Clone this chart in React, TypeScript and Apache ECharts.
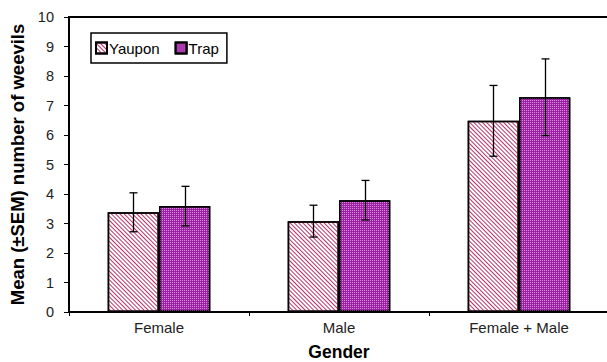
import React, { useEffect, useRef } from "react";
import * as echarts from "echarts";

const categories = ["Female", "Male", "Female + Male"];
const yaupon = [3.38, 3.08, 6.48];
const yauponSem = [0.66, 0.54, 1.2];
const trap = [3.59, 3.79, 7.28];
const trapSem = [0.67, 0.67, 1.3];
const seriesNames = ["Yaupon", "Trap"];

const FONT = "'Liberation Sans', Arial, sans-serif";
const GAP = 0.43;

function errSeries(values: number[], sems: number[], sign: number) {
  return {
    type: "custom",
    silent: true,
    z: 10,
    data: values.map((v, i) => [i, v, sems[i]]),
    renderItem: (params: any, api: any) => {
      const band = api.size([1, 0])[0];
      const bw = (band * (1 - GAP)) / 2;
      const c = api.value(0);
      const v = api.value(1);
      const s = api.value(2);
      const top = api.coord([c, v + s]);
      const bot = api.coord([c, v - s]);
      const x = Math.round(top[0] + (sign * bw) / 2) + 0.5;
      const hw = 4;
      const style = { stroke: "#000", lineWidth: 1.3 };
      return {
        type: "group",
        children: [
          { type: "line", shape: { x1: x, y1: top[1], x2: x, y2: bot[1] }, style },
          { type: "line", shape: { x1: x - hw, y1: top[1], x2: x + hw, y2: top[1] }, style },
          { type: "line", shape: { x1: x - hw, y1: bot[1], x2: x + hw, y2: bot[1] }, style },
        ],
      };
    },
  };
}

export default function App() {
  const ref = useRef<HTMLDivElement>(null);
  useEffect(() => {
    const chart = echarts.init(ref.current!, null, { renderer: "svg" });
    chart.setOption({
      animation: false,
      textStyle: { fontFamily: FONT },
      legend: {
        data: seriesNames,
        left: 91,
        top: 33,
        orient: "horizontal",
        icon: "rect",
        itemWidth: 11,
        itemHeight: 11,
        itemGap: 15,
        padding: [6, 8, 6, 4],
        borderColor: "#000",
        borderWidth: 1.5,
        textStyle: {
          fontFamily: FONT,
          fontSize: 15,
          lineHeight: 18,
          color: "#000",
          padding: [0, 0, 0, -3],
        },
      },
      grid: { left: 69, top: 17, width: 540, height: 295, outerBoundsMode: "none", containLabel: false },
      xAxis: [
        {
          type: "category",
          data: categories,
          name: "Gender",
          nameLocation: "middle",
          nameGap: 31,
          nameTextStyle: { fontFamily: FONT, fontSize: 17.5, fontWeight: "bold", color: "#000" },
          axisLine: { lineStyle: { color: "#000", width: 2 } },
          axisTick: { show: true, length: 4, lineStyle: { color: "#000", width: 1 } },
          axisLabel: { fontFamily: FONT, fontSize: 15, color: "#222", margin: 8 },
        },
        {
          type: "category",
          data: categories,
          position: "top",
          axisLine: { lineStyle: { color: "#000", width: 2 } },
          axisTick: { show: false },
          axisLabel: { show: false },
        },
      ],
      yAxis: {
        type: "value",
        min: 0,
        max: 10,
        interval: 1,
        name: "Mean (\u00b1SEM) number of weevils",
        nameLocation: "middle",
        nameGap: 42,
        nameTextStyle: { fontFamily: FONT, fontSize: 18.5, fontWeight: "bold", color: "#000" },
        axisLine: { show: true, lineStyle: { color: "#000", width: 2 } },
        axisTick: { show: true, length: 5, lineStyle: { color: "#000", width: 1 } },
        axisLabel: { fontFamily: FONT, fontSize: 14.5, color: "#222", margin: 15 },
        splitLine: { show: false },
      },
      series: [
        {
          name: "Yaupon",
          type: "bar",
          data: yaupon,
          barGap: "0%",
          barCategoryGap: "43%",
          itemStyle: {
            color: "#ffffff",
            borderColor: "#000",
            borderWidth: 1.5,
            decal: {
              symbol: "rect",
              color: "#b8336a",
              dashArrayX: [1, 0],
              dashArrayY: [1, 2],
              rotation: Math.PI / 4,
            },
          },
        },
        {
          name: "Trap",
          type: "bar",
          data: trap,
          barGap: "0%",
          barCategoryGap: "43%",
          itemStyle: {
            color: "#9c22a4",
            borderColor: "#000",
            borderWidth: 1.5,
            decal: {
              symbol: "rect",
              color: "#d68ad8",
              symbolSize: 1,
              dashArrayX: [1, 1],
              dashArrayY: [1, 1],
              rotation: 0,
            },
          },
        },
        errSeries(yaupon, yauponSem, -1),
        errSeries(trap, trapSem, 1),
      ],
    });
    return () => chart.dispose();
  }, []);
  return (
    <div
      ref={ref}
      style={{ position: "fixed", left: 0, top: 0, width: 607, height: 362, background: "#fff" }}
    />
  );
}
